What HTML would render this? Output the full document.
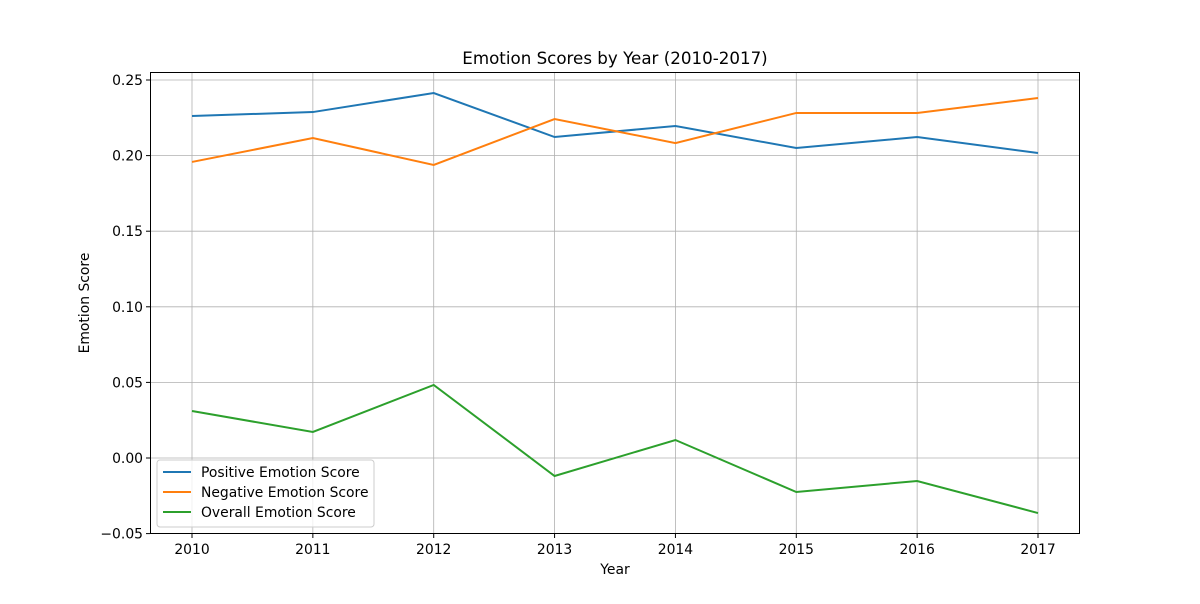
<!DOCTYPE html>
<html><head><meta charset="utf-8"><style>
body{margin:0;background:#fff;font-family:"DejaVu Sans","Liberation Sans",sans-serif;}
svg text{font-family:"DejaVu Sans","Liberation Sans",sans-serif;fill:#000;}
</style></head><body>
<svg id="chart" width="1200" height="600">
<rect width="1200" height="600" fill="#fff"/>
<text x="615" y="64" font-size="16.7" text-anchor="middle">Emotion Scores by Year (2010-2017)</text>
<g id="grid"></g><g id="axes"></g><g id="series"></g>
<text x="615" y="574" font-size="13.9" text-anchor="middle">Year</text>
<text x="89" y="303" font-size="13.9" text-anchor="middle" transform="rotate(-90 89 303)">Emotion Score</text>
<g id="legend"></g>
</svg>
<script>
const years=[2010,2011,2012,2013,2014,2015,2016,2017];
const positive=[0.2262,0.2288,0.2414,0.2123,0.2196,0.2050,0.2123,0.2017];
const negative=[0.1958,0.2116,0.1938,0.2242,0.2083,0.2282,0.2282,0.2381];
const overall=[0.0311,0.0172,0.0483,-0.0119,0.0119,-0.0225,-0.0152,-0.0364];
const yTicks=[-0.05,0.00,0.05,0.10,0.15,0.20,0.25];
const seriesNames=["Positive Emotion Score","Negative Emotion Score","Overall Emotion Score"];
const L=150,R=1080,T=72,B=534;
const x=v=>192+(v-2010)*(1038-192)/7;
const y=v=>458-v*1512;
const ns="http://www.w3.org/2000/svg";
function mk(t,a,p){const e=document.createElementNS(ns,t);for(const k in a)e.setAttribute(k,a[k]);p.appendChild(e);return e;}
const grid=document.getElementById('grid'),axes=document.getElementById('axes'),ser=document.getElementById('series'),leg=document.getElementById('legend');
years.forEach(yr=>{
 const g=mk('line',{x1:x(yr),x2:x(yr),y1:T,y2:B,stroke:'#b0b0b0','stroke-width':0.8},grid);
 
 
 mk('line',{x1:x(yr),x2:x(yr),y1:B,y2:B+4,stroke:'#000'},axes);
 const t=mk('text',{x:x(yr),y:B+20,'font-size':13.9,'text-anchor':'middle'},axes);t.textContent=yr;
 
 
});
yTicks.forEach(v=>{
 const g=mk('line',{x1:L,x2:R,y1:y(v),y2:y(v),stroke:'#b0b0b0','stroke-width':0.8},grid);
 
 
 mk('line',{x1:L-4,x2:L,y1:y(v),y2:y(v),stroke:'#000'},axes);
 const t=mk('text',{x:L-7,y:y(v)+5,'font-size':13.9,'text-anchor':'end'},axes);t.textContent=(v<0?'\u2212'+Math.abs(v).toFixed(2):v.toFixed(2));
 
 
});
const frame=mk('rect',{x:L+0.5,y:T+0.5,width:R-L-1,height:B-T-1,fill:'none',stroke:'#000','stroke-width':1},axes);


const data=[positive,negative,overall],cols=['#1f77b4','#ff7f0e','#2ca02c'],names=['positive-line','negative-line','overall-line'];
data.forEach((d,i)=>{
 const p=mk('polyline',{points:d.map((v,j)=>x(years[j])+','+y(v)).join(' '),fill:'none',stroke:cols[i],'stroke-width':2},ser);
 
 
});
const lb=mk('rect',{x:157,y:460,width:217,height:67,rx:3,fill:'#fff','fill-opacity':0.8,stroke:'#ccc'},leg);


seriesNames.forEach((n,i)=>{
 const yy=472+i*20;
 mk('line',{x1:163,x2:191,y1:yy,y2:yy,stroke:cols[i],'stroke-width':2},leg);
 const t=mk('text',{x:201,y:yy+5,'font-size':13.9},leg);t.textContent=n;
 
 
});
</script>
</body></html>
